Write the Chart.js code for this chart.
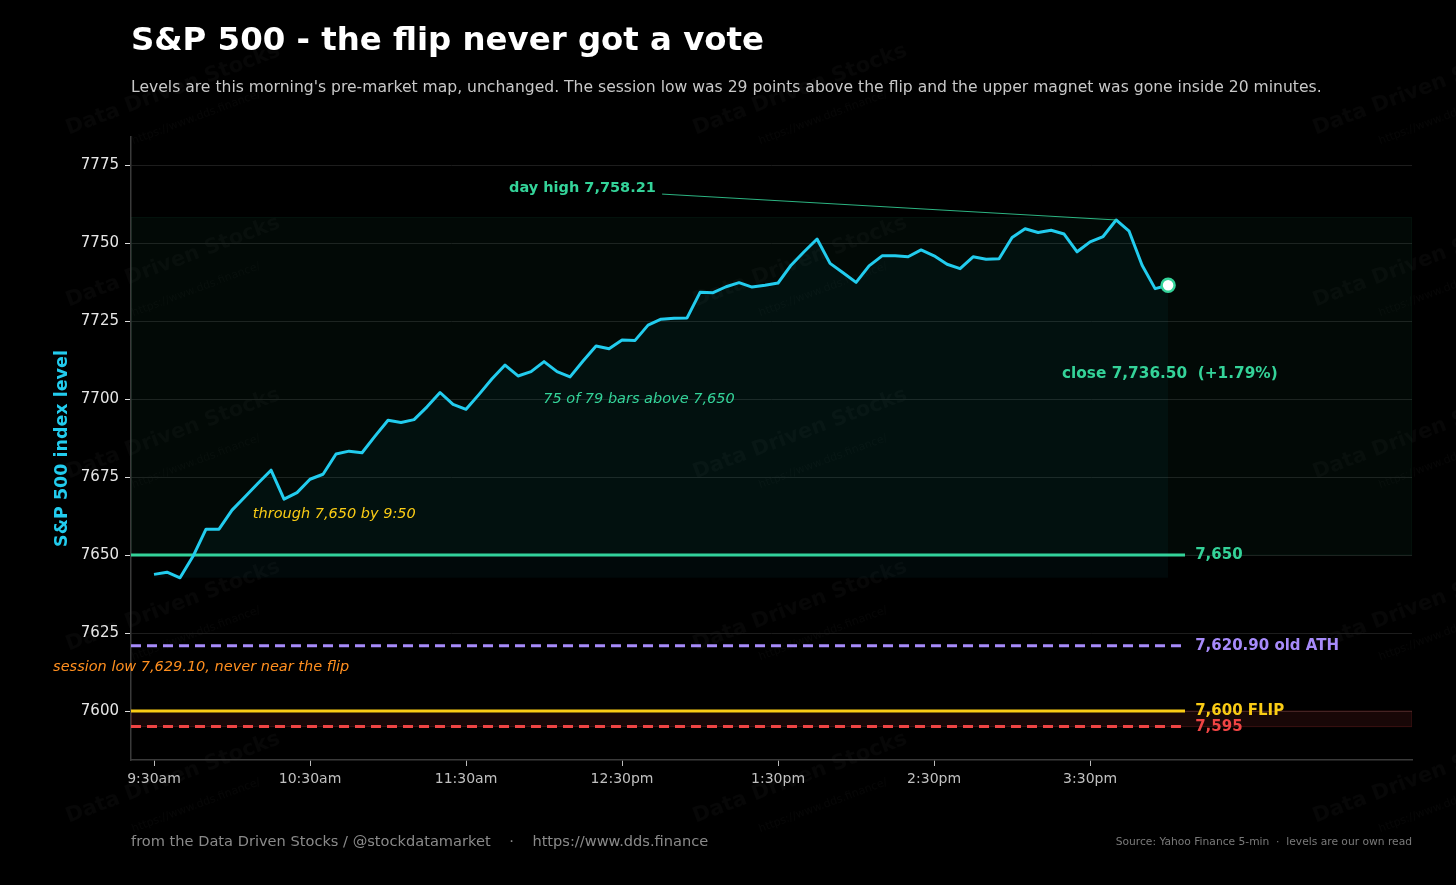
<!DOCTYPE html>
<html>
<head>
<meta charset="utf-8">
<script src="https://cdn.jsdelivr.net/npm/chart.js@4/dist/chart.umd.min.js"></script>
<style>
  html, body { margin: 0; padding: 0; background: #000; }
  #wrap { position: relative; width: 1456px; height: 885px; background: #000; overflow: hidden; }
  canvas { position: absolute; left: 0; top: 0; }
  .txt { position: absolute; font-family: 'DejaVu Sans', sans-serif; line-height: 1; white-space: pre; }
  #title { left: 131px; top: 23px; font-size: 32.4px; font-weight: bold; color: #ffffff; }
  #subtitle { left: 131px; top: 80px; font-size: 15.6px; color: #c8c8c8; }
  #footer { left: 131px; top: 834px; font-size: 14.6px; color: #8a8a8a; }
  #source { right: 44px; top: 837px; font-size: 10.7px; color: #7a7a7a; }
</style>
</head>
<body>
<div id="wrap">
  <canvas id="c" width="1456" height="885"></canvas>
  <div class="txt" id="title">S&amp;P 500 - the flip never got a vote</div>
  <div class="txt" id="subtitle">Levels are this morning's pre-market map, unchanged. The session low was 29 points above the flip and the upper magnet was gone inside 20 minutes.</div>
  <div class="txt" id="footer">from the Data Driven Stocks / @stockdatamarket    ·    https://www.dds.finance</div>
  <div class="txt" id="source">Source: Yahoo Finance 5-min  ·  levels are our own read</div>
</div>
<script>
// ---------------- DATA ----------------
const barStepMinutes = 5; // 5-minute bars starting 9:30am
const closes = [
  7643.8, 7644.5, 7642.7, 7649.6, 7658.3, 7658.3, 7664.4, 7668.7, 7673.0, 7677.2,
  7667.9, 7670.0, 7674.3, 7675.9, 7682.4, 7683.3, 7682.8, 7688.1, 7693.2, 7692.5,
  7693.4, 7697.5, 7702.1, 7698.3, 7696.7, 7701.5, 7706.5, 7710.9, 7707.4, 7708.8,
  7712.0, 7708.8, 7707.1, 7712.2, 7717.0, 7716.1, 7718.9, 7718.8, 7723.7, 7725.6,
  7725.9, 7726.0, 7734.2, 7734.1, 7736.0, 7737.3, 7735.9, 7736.5, 7737.2, 7742.9,
  7747.2, 7751.3, 7743.5, 7740.5, 7737.4, 7742.7, 7745.9, 7745.9, 7745.6, 7747.8,
  7745.9, 7743.2, 7741.8, 7745.6, 7744.8, 7745.0, 7751.8, 7754.6, 7753.4, 7754.1,
  7752.9, 7747.2, 7750.4, 7752.1, 7757.4, 7753.8, 7742.9, 7735.4, 7736.5
];
const dayHigh = 7758.21;
const closeValue = 7736.50;
const levelValues = [7650, 7620.90, 7600, 7595];
const levelLabels = ['7,650', '7,620.90 old ATH', '7,600 FLIP', '7,595'];
const xTickMinutes = [0, 60, 120, 180, 240, 300, 360];
const xTickLabels = ['9:30am', '10:30am', '11:30am', '12:30pm', '1:30pm', '2:30pm', '3:30pm'];
const yTickValues = [7600, 7625, 7650, 7675, 7700, 7725, 7750, 7775];

// ---------------- STYLE / LAYOUT ----------------
const X_MIN = -8.85, X_MAX = 483.8;
const Y_MIN = 7584.3, Y_MAX = 7784.0;
const LEVEL_END_X = 396.5;
const LABEL_X = 400.4;
const C_CYAN = '#22ccee', C_GREEN = '#34d399', C_PURPLE = '#a78bfa', C_YELLOW = '#facc15', C_RED = '#ef4444', C_ORANGE = '#ff8f1f';
const levelStyles = [
  { color: C_GREEN, width: 3, dash: [] },
  { color: C_PURPLE, width: 3, dash: [10, 6] },
  { color: C_YELLOW, width: 3, dash: [] },
  { color: C_RED, width: 3, dash: [10, 6] }
];
const FONT = "'DejaVu Sans', sans-serif";

const pricePoints = closes.map((v, i) => ({ x: i * barStepMinutes, y: v }));
const lastX = (closes.length - 1) * barStepMinutes;
const minClose = Math.min(...closes);
const highIdx = closes.indexOf(Math.max(...closes));

const datasets = [];
levelValues.forEach((lv, i) => {
  datasets.push({
    data: [{ x: X_MIN, y: lv }, { x: LEVEL_END_X, y: lv }],
    borderColor: levelStyles[i].color,
    borderWidth: levelStyles[i].width,
    borderDash: levelStyles[i].dash,
    pointRadius: 0, fill: false, order: 5 - i
  });
});
datasets.push({
  data: pricePoints,
  borderColor: C_CYAN, borderWidth: 3, pointRadius: 0, tension: 0,
  fill: { value: minClose },
  backgroundColor: 'rgba(34,200,240,0.045)',
  borderJoinStyle: 'round', order: 0
});
datasets.push({
  data: [{ x: lastX, y: closeValue }],
  borderColor: C_GREEN, backgroundColor: '#ffffff',
  pointRadius: 6.5, pointBorderWidth: 2.5, showLine: false, order: -1
});

const bgPlugin = {
  id: 'bg',
  beforeDraw(chart) {
    const ctx = chart.ctx;
    ctx.save();
    ctx.fillStyle = '#000';
    ctx.fillRect(0, 0, chart.width, chart.height);
    // watermark
    ctx.fillStyle = 'rgba(255,255,255,0.028)';
    const cols = [173, 800, 1420];
    const rows = [90, 262, 434, 606, 778];
    cols.forEach(cx => rows.forEach(cy => {
      ctx.save();
      ctx.translate(cx, cy);
      ctx.rotate(-20.5 * Math.PI / 180);
      ctx.textAlign = 'center'; ctx.textBaseline = 'middle';
      ctx.font = 'bold 21px ' + FONT;
      ctx.fillText('Data Driven Stocks', 0, 0);
      ctx.font = '11px ' + FONT;
      ctx.fillText('https://www.dds.finance/', 12, 34);
      ctx.restore();
    }));
    ctx.restore();
  },
  beforeDatasetsDraw(chart) {
    const { ctx, chartArea: a, scales: { x, y } } = chart;
    ctx.save();
    ctx.beginPath(); ctx.rect(a.left, a.top, a.right - a.left, a.bottom - a.top); ctx.clip();
    // bullish band 7650 -> day high
    const yT = y.getPixelForValue(dayHigh), yB = y.getPixelForValue(levelValues[0]);
    ctx.fillStyle = 'rgba(46,204,138,0.045)';
    ctx.fillRect(a.left, yT, a.right - a.left, yB - yT);
    ctx.strokeStyle = 'rgba(46,204,138,0.08)'; ctx.lineWidth = 1;
    ctx.strokeRect(a.left, yT, a.right - a.left, yB - yT);
    // flip band 7595 -> 7600
    const rT = y.getPixelForValue(levelValues[2]), rB = y.getPixelForValue(levelValues[3]);
    ctx.fillStyle = 'rgba(239,68,68,0.1)';
    ctx.fillRect(a.left, rT, a.right - a.left, rB - rT);
    ctx.strokeStyle = 'rgba(239,68,68,0.2)';
    ctx.strokeRect(a.left, rT, a.right - a.left, rB - rT);
    ctx.restore();
  },
  afterDatasetsDraw(chart) {
    const { ctx, scales: { x, y } } = chart;
    ctx.save();
    ctx.textBaseline = 'middle';
    // level labels
    levelValues.forEach((lv, i) => {
      ctx.font = 'bold 15px ' + FONT;
      ctx.fillStyle = levelStyles[i].color;
      ctx.textAlign = 'left';
      ctx.fillText(levelLabels[i], x.getPixelForValue(LABEL_X), y.getPixelForValue(lv));
    });
    // day high connector + label
    ctx.strokeStyle = C_GREEN; ctx.lineWidth = 1; ctx.globalAlpha = 0.85;
    ctx.beginPath();
    ctx.moveTo(x.getPixelForValue(195.4), y.getPixelForValue(7765.7));
    ctx.lineTo(x.getPixelForValue(highIdx * barStepMinutes), y.getPixelForValue(closes[highIdx]));
    ctx.stroke();
    ctx.globalAlpha = 1;
    ctx.font = 'bold 14.5px ' + FONT; ctx.fillStyle = C_GREEN; ctx.textAlign = 'right';
    ctx.fillText('day high ' + dayHigh.toLocaleString('en-US', { minimumFractionDigits: 2 }), x.getPixelForValue(193), y.getPixelForValue(7767.6));
    // close label
    ctx.font = 'bold 15.3px ' + FONT; ctx.textAlign = 'left';
    ctx.fillText('close 7,736.50  (+1.79%)', x.getPixelForValue(349.2), y.getPixelForValue(7708));
    // italic notes
    ctx.font = 'italic 14.5px ' + FONT;
    ctx.textAlign = 'center';
    ctx.fillText('75 of 79 bars above 7,650', x.getPixelForValue(186.5), y.getPixelForValue(7700));
    ctx.fillStyle = C_YELLOW; ctx.textAlign = 'left';
    ctx.fillText('through 7,650 by 9:50', x.getPixelForValue(38), y.getPixelForValue(7663.1));
    ctx.fillStyle = C_ORANGE;
    ctx.fillText('session low 7,629.10, never near the flip', x.getPixelForValue(-38.8), y.getPixelForValue(7614.1));
    // y-axis title
    ctx.save();
    ctx.translate(62, (chart.chartArea.top + chart.chartArea.bottom) / 2);
    ctx.rotate(-Math.PI / 2);
    ctx.textAlign = 'center';
    ctx.font = 'bold 17.5px ' + FONT; ctx.fillStyle = C_CYAN;
    ctx.fillText('S&P 500 index level', 0, 0);
    ctx.restore();
    ctx.restore();
  }
};

new Chart(document.getElementById('c'), {
  type: 'line',
  data: { datasets },
  options: {
    responsive: false, animation: false, devicePixelRatio: 1,
    layout: { padding: { top: 137, right: 44, left: 0, bottom: 0 } },
    plugins: { legend: { display: false }, tooltip: { enabled: false }, title: { display: false } },
    scales: {
      x: {
        type: 'linear', min: X_MIN, max: X_MAX,
        afterBuildTicks: s => { s.ticks = xTickMinutes.map(v => ({ value: v })); },
        afterFit: s => { s.height = 125; },
        ticks: {
          autoSkip: false, maxRotation: 0, padding: 5, color: '#c0c0c0',
          font: { family: FONT, size: 14 },
          callback: v => { const k = xTickMinutes.indexOf(v); return k >= 0 ? xTickLabels[k] : ''; }
        },
        grid: { drawOnChartArea: false, tickLength: 6, tickColor: '#bbbbbb', tickWidth: 1 },
        border: { color: '#3a3a3a', width: 1.5 }
      },
      y: {
        type: 'linear', min: Y_MIN, max: Y_MAX,
        afterBuildTicks: s => { s.ticks = yTickValues.map(v => ({ value: v })); },
        afterFit: s => { s.width = 131; },
        ticks: {
          padding: 6, color: '#e6e6e6', font: { family: FONT, size: 15 },
          callback: v => String(v)
        },
        grid: { color: '#1d1d1d', lineWidth: 1, tickLength: 6, tickColor: '#dddddd', tickWidth: 1 },
        border: { color: '#3a3a3a', width: 1.5 }
      }
    }
  },
  plugins: [bgPlugin]
});
</script>
</body>
</html>
